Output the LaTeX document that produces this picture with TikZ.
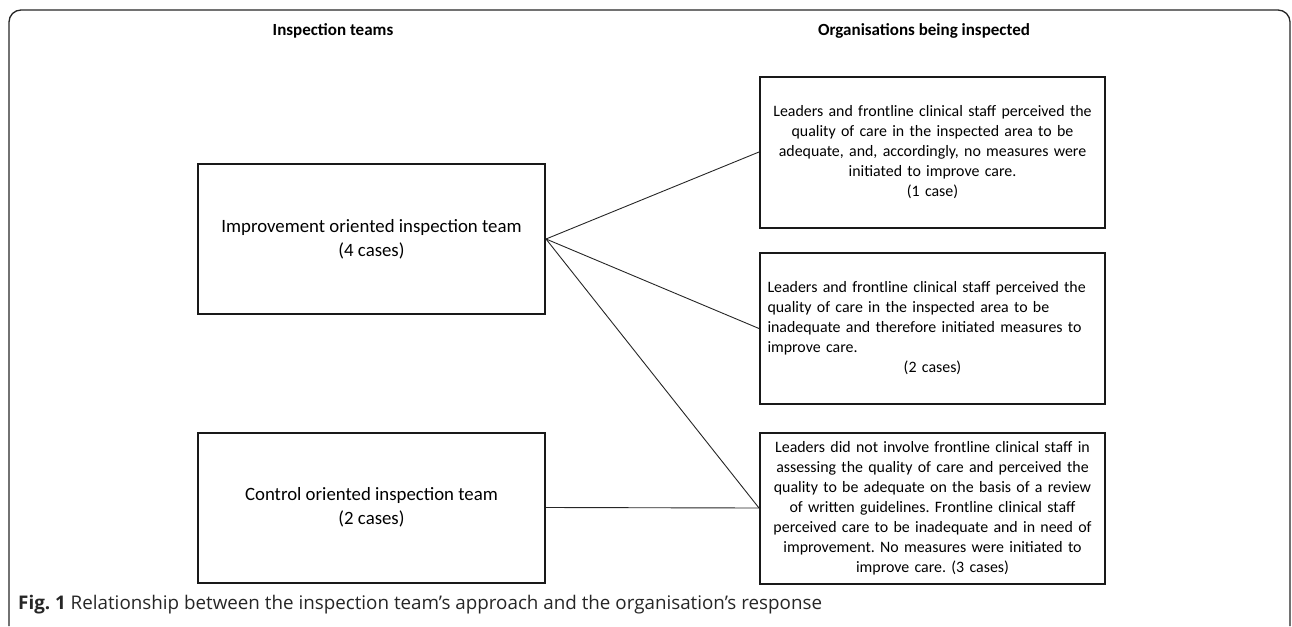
\documentclass[tikz,border=0pt]{standalone}
\usepackage{fontspec}
\setmainfont{Carlito}
\newfontfamily\capfont{Open Sans}
\frenchspacing
\begin{document}
\begin{tikzpicture}[x=1pt,y=-1pt,
  boxtext/.style={font=\fontsize{15.9}{20}\selectfont},
  teambox/.style={font=\fontsize{18.8}{24}\selectfont, draw=black!90, line width=2pt,
    minimum width=347pt, minimum height=150pt, inner sep=0pt, align=center},
  orgbox/.style={boxtext, draw=black!90, line width=2pt, minimum width=345pt,
    minimum height=151pt, inner sep=0pt, text width=330pt, align=center},
  header/.style={font=\fontsize{17}{20}\selectfont\bfseries},
  link/.style={line width=0.9pt, black!85}]
  \useasboundingbox (0,0) rectangle (1292,626);
  % outer frame, open at the bottom
  \draw[line width=1.3pt, black!85, rounded corners=12pt]
    (9,626) -- (9,10) -- (1290,10) -- (1290,626);

  % column headings
  \node[header] (hteams) at (333,31) {Inspection teams};
  \node[header] (horgs) at (924,31) {Organisations being inspected};

  % inspection teams
  \node[teambox] (tA) at (371.5,239) {Improvement oriented inspection team\\(4 cases)};
  \node[teambox] (tB) at (371.5,507.5) {Control oriented inspection team\\(2 cases)};

  % organisational responses
  \node[orgbox] (o1) at (932.5,152) {Leaders and frontline clinical staff perceived the\\
    quality of care in the inspected area to be\\
    adequate, and, accordingly, no measures were\\
    initiated to improve care.\\(1 case)};
  \node[orgbox, align=left] (o2) at (932.5,328.5) {Leaders and frontline clinical staff perceived the\\
    quality of care in the inspected area to be\\
    inadequate and therefore initiated measures to\\
    improve care.\\\makebox[330pt]{(2 cases)}};
  \node[orgbox] (o3) at (932.5,508) {Leaders did not involve frontline clinical staff in\\
    assessing the quality of care and perceived the\\
    quality to be adequate on the basis of a review\\
    of written guidelines. Frontline clinical staff\\
    perceived care to be inadequate and in need of\\
    improvement. No measures were initiated to\\
    improve care. (3 cases)};

  % relationships
  \draw[link] (tA.east) -- (o1.west);
  \draw[link] (tA.east) -- (o2.west);
  \draw[link] (tA.east) -- (o3.west);
  \draw[link] (tB.east) -- (o3.west);

  % caption
  \node[anchor=base west, inner sep=0pt, font=\capfont\fontsize{18.8}{22}\selectfont, black!85] (cap) at (18,609)
    {\textbf{Fig. 1} Relationship between the inspection team’s approach and the organisation’s response};
\end{tikzpicture}
\end{document}
